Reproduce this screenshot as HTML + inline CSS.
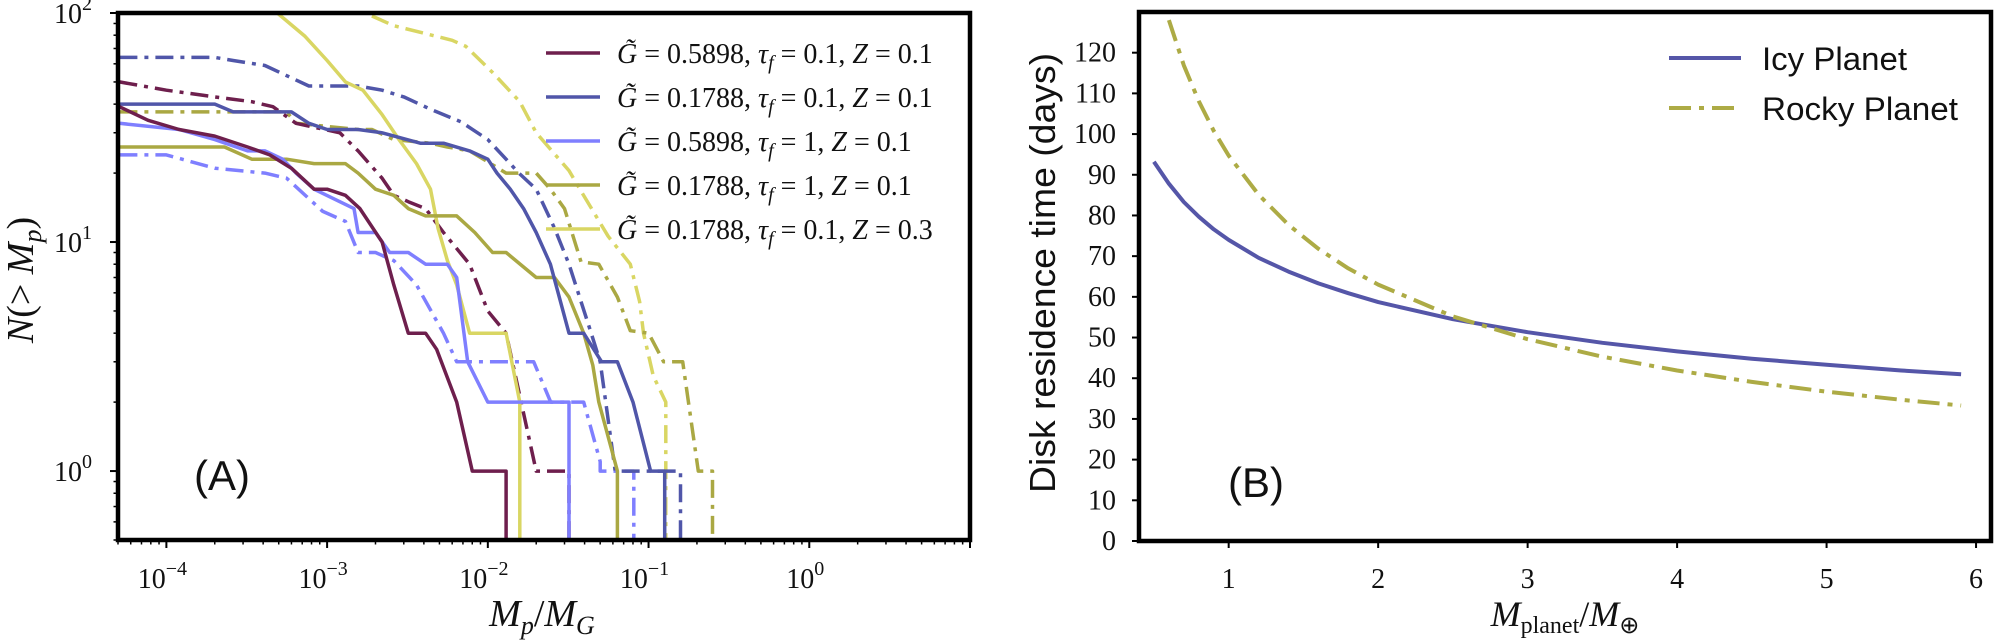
<!DOCTYPE html>
<html><head><meta charset="utf-8"><style>
html,body{margin:0;padding:0;background:#fff;}
svg{display:block;}
.tk{font-family:"Liberation Serif",serif;font-size:28px;fill:#111;}
.sans{font-family:"Liberation Sans",sans-serif;fill:#111;}
.ser{font-family:"Liberation Serif",serif;fill:#111;}
</style></head><body>
<svg id="fig" width="1996" height="640" viewBox="0 0 1996 640" xmlns="http://www.w3.org/2000/svg">
<defs>
<clipPath id="clipA"><rect x="118" y="13" width="852" height="527"/></clipPath>
<clipPath id="clipB"><rect x="1139" y="12" width="852" height="529"/></clipPath>
</defs>
<g id="panelA">
<g id="seriesA" clip-path="url(#clipA)"></g>
<g id="ticksA"></g>
<rect x="118" y="13" width="852" height="527" fill="none" stroke="#000" stroke-width="4.5"/>
<text class="sans" x="222" y="490" font-size="42" text-anchor="middle">(A)</text>
<text class="ser" transform="translate(33,280) rotate(-90)" font-size="38" text-anchor="middle" font-style="italic">N<tspan font-style="normal">(&gt; </tspan>M<tspan font-size="26" dy="8">p</tspan><tspan font-style="normal" dy="-8">)</tspan></text>
<text class="ser" x="542" y="626" font-size="38" text-anchor="middle" font-style="italic">M<tspan font-size="26" dy="8">p</tspan><tspan font-style="normal" dy="-8">/</tspan>M<tspan font-size="26" dy="8">G</tspan></text>
<g id="legendA"></g>
</g>
<g id="panelB">
<g id="seriesB" clip-path="url(#clipB)"></g>
<g id="ticksB"></g>
<rect x="1139" y="12" width="852" height="529" fill="none" stroke="#000" stroke-width="4.5"/>
<text class="sans" x="1256" y="497" font-size="42" text-anchor="middle">(B)</text>
<text class="sans" transform="translate(1055,273) rotate(-90)" font-size="36" text-anchor="middle" textLength="440" lengthAdjust="spacingAndGlyphs">Disk residence time (days)</text>
<text class="ser" x="1565" y="626" font-size="36" text-anchor="middle" font-style="italic">M<tspan font-size="24" dy="7" font-style="normal">planet</tspan><tspan font-style="normal" dy="-7">/</tspan>M<tspan font-size="24" dy="7" font-style="normal">⊕</tspan></text>
<g>
<line x1="1669" y1="58" x2="1741" y2="58" stroke="#5556a8" stroke-width="4"/>
<text class="sans" x="1762" y="70" font-size="32" textLength="145" lengthAdjust="spacingAndGlyphs">Icy Planet</text>
<line x1="1669" y1="108" x2="1741" y2="108" stroke="#adab45" stroke-width="4" stroke-dasharray="22 8 5 8"/>
<text class="sans" x="1762" y="120" font-size="32" textLength="196" lengthAdjust="spacingAndGlyphs">Rocky Planet</text>
</g>
</g>
</svg>
<script>
// ---------- Panel A data ----------
const mpMaroonSolid=[5.1e-5,7.7e-5,1.2e-4,2e-4,3.2e-4,4.4e-4,6e-4,8.3e-4,1e-3,1.3e-3,1.6e-3,2.2e-3,2.6e-3,3.2e-3,4.1e-3,4.8e-3,6.4e-3,8e-3,1.3e-2,1.3e-2];
const nMaroonSolid=[39,34,31,29,26,24,21,17,17,16,14,10,6.5,4,4,3.4,2,1,1,0.4];
const mpMaroonDash=[5.1e-5,1e-4,2e-4,3.4e-4,4.6e-4,6.4e-4,1.2e-3,1.56e-3,2.2e-3,2.6e-3,3.2e-3,4.1e-3,5.3e-3,7.7e-3,1e-2,1.3e-2,2e-2,3.2e-2,3.2e-2];
const nMaroonDash=[50,46,43,41,39,33,30,25,19,16,15,14,11,8,5,4,1,1,0.4];
const mpBlueSolid=[5.1e-5,2e-4,2.6e-4,6e-4,7.7e-4,1e-3,1.56e-3,2.2e-3,3.8e-3,5.3e-3,7.7e-3,1e-2,1.14e-2,1.38e-2,1.67e-2,2e-2,2.45e-2,3.2e-2,3.95e-2,5.1e-2,6.4e-2,8e-2,0.103,0.126,0.126];
const nBlueSolid=[40,40,37,37,33,31,31,30,27,27,25,23,20,17,14,11,8,4,4,3,3,2,1,1,0.4];
const mpBlueDash=[5.1e-5,2e-4,2.6e-4,4.1e-4,7.7e-4,1.56e-3,2.2e-3,3e-3,4.4e-3,6.8e-3,1e-2,1.3e-2,1.56e-2,2e-2,2.6e-2,3.2e-2,3.8e-2,4.4e-2,5e-2,6.2e-2,0.158,0.158];
const nBlueDash=[64,64,62,59,48,48,46,43,38,33.5,28,23,20,17,11.5,8,5.5,4,3,1,1,0.4];
const mpLightSolid=[5.1e-5,1.2e-4,2e-4,3.2e-4,4.1e-4,5.3e-4,6.4e-4,8.3e-4,1.2e-3,1.47e-3,1.56e-3,2e-3,2.45e-3,3.2e-3,4.1e-3,5.6e-3,6.4e-3,7.5e-3,1e-2,3.2e-2,3.2e-2];
const nLightSolid=[33,31,28,25,25,23,20,17,15,14,11,11,9,9,8,8,7,3,2,2,0.4];
const mpLightDash=[5.1e-5,1e-4,2e-4,4.1e-4,5.6e-4,9.4e-4,1.3e-3,1.56e-3,2e-3,2.6e-3,3.6e-3,5.3e-3,6.4e-3,1.93e-2,2.46e-2,3.95e-2,5e-2,5e-2,8.1e-2,8.1e-2];
const nLightDash=[24,24,21,20,19,13.6,12.3,9,9,8.3,6.5,4,3,3,2,2,1.1,1,1,0.4];
const mpOliveSolid=[5.1e-5,2.3e-4,3.4e-4,5.6e-4,8.3e-4,1.3e-3,1.56e-3,2e-3,2.6e-3,3.2e-3,4.1e-3,6.4e-3,8.3e-3,1.07e-2,1.3e-2,2e-2,2.6e-2,3.2e-2,3.95e-2,4.5e-2,4.9e-2,6.4e-2,6.4e-2];
const nOliveSolid=[26,26,23,23,22,22,20,17,16,14,13,13,11,9,9,7,7,5.75,4,2.9,2,1,0.4];
const mpOliveDash=[5.1e-5,5.6e-4,6.4e-4,1.56e-3,1.9e-3,2.6e-3,4.4e-3,5.6e-3,7.7e-3,9.4e-3,1.3e-2,2e-2,2.45e-2,3e-2,3.8e-2,4.9e-2,6.4e-2,7.7e-2,0.1,0.124,0.163,0.204,0.25,0.25];
const nOliveDash=[37,37,33,31,31,28,27,26,25,23,20,20,17,14,8.2,8,5.75,4.1,4,3,3,1,1,0.4];
const mpYellowSolid=[4.9e-4,7.3e-4,1e-3,1.3e-3,1.67e-3,2.2e-3,2.8e-3,3.6e-3,4.4e-3,4.9e-3,5.6e-3,6.4e-3,7.7e-3,1.3e-2,1.58e-2,1.58e-2];
const nYellowSolid=[100,79,62,50,46,36,28,22,17,11.5,8.3,6.5,4,4,2,0.4];
const mpYellowDash=[1.9e-3,2.6e-3,6e-3,7.3e-3,1.07e-2,1.58e-2,2e-2,3.2e-2,3.8e-2,5.6e-2,7.7e-2,8.8e-2,9.3e-2,0.107,0.128,0.128];
const nYellowDash=[97,88,76,71.5,55,41,30,20.5,16.7,10.6,8,5.5,4,2.6,2,0.4];
const legendGA=["0.5898","0.1788","0.5898","0.1788","0.1788"];
const legendTauA=["0.1","0.1","1","1","0.1"];
const legendZA=["0.1","0.1","0.1","0.1","0.3"];
const xTickExpA=[-4,-3,-2,-1,0];
const yTickExpA=[0,1,2];
// ---------- Panel B data ----------
const massIcy=[0.5,0.6,0.7,0.8,0.9,1.0,1.2,1.4,1.6,1.8,2.0,2.5,3.0,3.5,4.0,4.5,5.0,5.5,5.9];
const timeIcy=[93.2,87.8,83.3,79.7,76.6,74,69.6,66.2,63.3,60.9,58.7,54.5,51.3,48.7,46.6,44.8,43.3,41.9,41.0];
const massRocky=[0.6,0.7,0.8,0.9,1.0,1.2,1.4,1.6,1.8,2.0,2.5,3.0,3.5,4.0,4.5,5.0,5.5,5.9];
const timeRocky=[128,116.9,108.1,100.8,94.7,85.1,77.7,71.8,67.0,63.0,55.2,49.6,45.3,41.9,39.1,36.7,34.7,33.3];
const xTicksB=[1,2,3,4,5,6];
const yTicksB=[0,10,20,30,40,50,60,70,80,90,100,110,120];

const NS="http://www.w3.org/2000/svg";
const L10=Math.log10;
const AX0=118,AX1=970,AY0=540,AY1=13,XMIN=5e-5,XMAX=10,YMIN=0.5,YMAX=100;
function ax(m){return AX0+(L10(m)-L10(XMIN))/(L10(XMAX)-L10(XMIN))*(AX1-AX0);}
function ay(n){return AY0-(L10(n)-L10(YMIN))/(L10(YMAX)-L10(YMIN))*(AY0-AY1);}
const BX0=1139,BX1=1991,BY0=541,BY1=12;
function bx(v){return BX0+(v-0.4)/(6.1-0.4)*(BX1-BX0);}
function by(v){return BY0-v/130*(BY0-BY1);}

function mk(tag,attrs,parent){const e=document.createElementNS(NS,tag);for(const k in attrs)e.setAttribute(k,attrs[k]);parent.appendChild(e);return e;}
const DD="18 7 4 7";
const colMaroon="#6e1f4d",colBlue="#5056a9",colLight="#7f7fff",colOlive="#aaa843",colYellow="#d9d663";

const gA=document.getElementById('seriesA');
function drawA(xs,ys,col,dash,name){
  const pts=xs.map((m,i)=>ax(m).toFixed(1)+","+ay(ys[i]).toFixed(1)).join(" ");
  const p=mk('polyline',{points:pts,fill:'none',stroke:col,'stroke-width':3.5,'stroke-linejoin':'round'},gA);
  if(dash)p.setAttribute('stroke-dasharray',DD);
  
  
}
drawA(mpYellowDash,nYellowDash,colYellow,true,'series-g01788-tau01-z03-dashdot');
drawA(mpOliveDash,nOliveDash,colOlive,true,'series-g01788-tau1-dashdot');
drawA(mpLightDash,nLightDash,colLight,true,'series-g05898-tau1-dashdot');
drawA(mpBlueDash,nBlueDash,colBlue,true,'series-g01788-tau01-dashdot');
drawA(mpMaroonDash,nMaroonDash,colMaroon,true,'series-g05898-tau01-dashdot');
drawA(mpYellowSolid,nYellowSolid,colYellow,false,'series-g01788-tau01-z03');
drawA(mpOliveSolid,nOliveSolid,colOlive,false,'series-g01788-tau1');
drawA(mpLightSolid,nLightSolid,colLight,false,'series-g05898-tau1');
drawA(mpBlueSolid,nBlueSolid,colBlue,false,'series-g01788-tau01');
drawA(mpMaroonSolid,nMaroonSolid,colMaroon,false,'series-g05898-tau01');

const tA=document.getElementById('ticksA');
for(let e=-5;e<=1;e++){for(let k=1;k<10;k++){const m=k*Math.pow(10,e);if(m<XMIN*0.999||m>XMAX*1.001)continue;const x=ax(m);
  const t=mk('line',{x1:x,y1:AY0,x2:x,y2:AY0+(k===1?8:4.5),stroke:'#000','stroke-width':k===1?2:1.5},tA);
  
  }}
for(let e=-1;e<=2;e++){for(let k=1;k<10;k++){const n=k*Math.pow(10,e);if(n<YMIN*0.999||n>YMAX*1.001)continue;const y=ay(n);
  const t=mk('line',{x1:AX0,y1:y,x2:AX0-(k===1?8:4.5),y2:y,stroke:'#000','stroke-width':k===1?2:1.5},tA);
  
  }}
xTickExpA.forEach(e=>{const t=mk('text',{x:ax(Math.pow(10,e))-4,y:588,'text-anchor':'middle',class:'tk'},tA);
  t.innerHTML='10<tspan font-size="20" dy="-13">'+(e<0?'−'+(-e):e)+'</tspan>';
  
  });
yTickExpA.forEach(e=>{const t=mk('text',{x:92,y:ay(Math.pow(10,e))+10,'text-anchor':'end',class:'tk'},tA);
  t.innerHTML='10<tspan font-size="20" dy="-13">'+e+'</tspan>';
  
  });

const lgA=document.getElementById('legendA');
const legCols=[colMaroon,colBlue,colLight,colOlive,colYellow];
legendGA.forEach((g,i)=>{const y=53+i*44;
  const ln=mk('line',{x1:546,y1:y,x2:600,y2:y,stroke:legCols[i],'stroke-width':3.5},lgA);
  
  
  const t=mk('text',{x:617,y:y+10,class:'ser','font-size':'28'},lgA);
  t.innerHTML='<tspan font-style="italic">G̃</tspan> = '+g+', <tspan font-style="italic">τ</tspan><tspan font-style="italic" font-size="20" dy="6">f</tspan><tspan dy="-6"> = '+legendTauA[i]+', </tspan><tspan font-style="italic">Z</tspan> = '+legendZA[i];
  
  });

const gB=document.getElementById('seriesB');
function drawB(xs,ys,col,dash,name){
  const pts=xs.map((m,i)=>bx(m).toFixed(1)+","+by(ys[i]).toFixed(1)).join(" ");
  const p=mk('polyline',{points:pts,fill:'none',stroke:col,'stroke-width':4,'stroke-linejoin':'round'},gB);
  if(dash)p.setAttribute('stroke-dasharray','22 8 5 8');
  
  
}
drawB(massIcy,timeIcy,'#5556a8',false,'icy-planet-line');
drawB(massRocky,timeRocky,'#adab45',true,'rocky-planet-line');
const tB=document.getElementById('ticksB');
xTicksB.forEach(v=>{const x=bx(v);
  const l=mk('line',{x1:x,y1:BY0,x2:x,y2:BY0+7,stroke:'#000','stroke-width':2},tB);
  
  
  const t=mk('text',{x:x,y:588,'text-anchor':'middle',class:'tk'},tB);t.textContent=v;
  
  });
yTicksB.forEach(v=>{const y=by(v);
  const l=mk('line',{x1:BX0,y1:y,x2:BX0-7,y2:y,stroke:'#000','stroke-width':2},tB);
  
  
  const t=mk('text',{x:1116,y:y+9,'text-anchor':'end',class:'tk'},tB);t.textContent=v;
  
  });
</script>
</body></html>
